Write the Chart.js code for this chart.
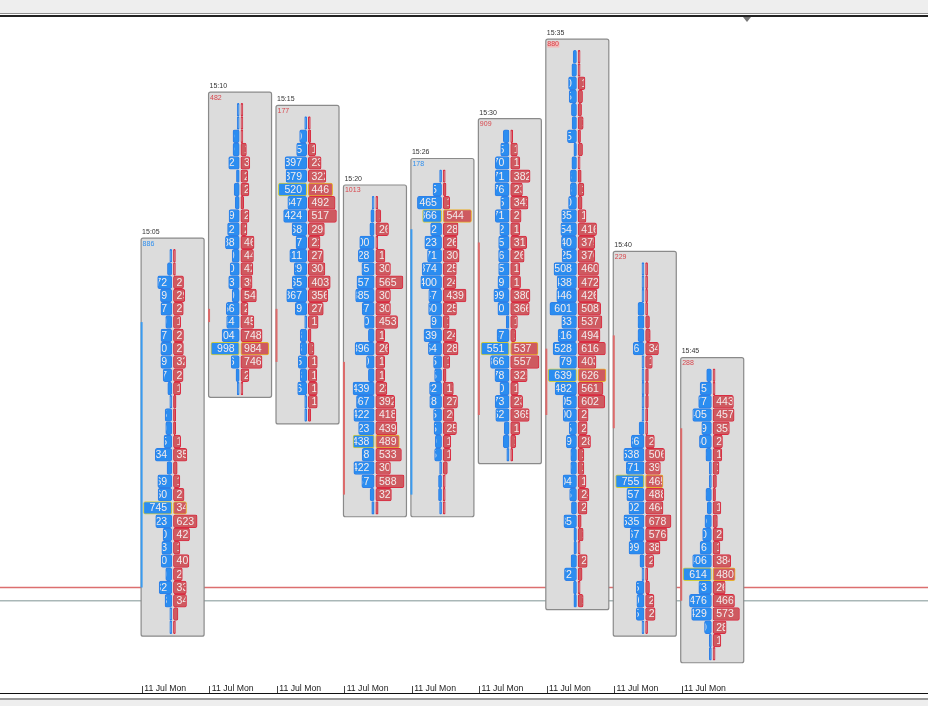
<!DOCTYPE html>
<html>
<head>
<meta charset="utf-8">
<title>Footprint</title>
<script src="https://cdn.jsdelivr.net/npm/chart.js@4"></script>
<style>
  html, body { margin: 0; background: #fff; overflow: hidden; }
  #wrap { position: relative; width: 928px; height: 706px; }
  canvas { position: absolute; left: 0; top: 0; filter: blur(0.4px); }
  .bar { position: absolute; left: 0; width: 928px; }
</style>
</head>
<body>
<div id="wrap">
  <canvas id="myChart" width="928" height="706"></canvas>
  <div class="bar" style="top:0;height:13px;background:#eeeeee"></div>
  <div class="bar" style="top:13px;height:1px;background:#8f8f8f"></div>
  <div class="bar" style="top:15px;height:2px;background:#222"></div>
  <div style="position:absolute;left:743px;top:17px;border-left:4.5px solid transparent;border-right:4.5px solid transparent;border-top:5px solid #777"></div>
  <div class="bar" style="top:693px;height:1px;background:#111"></div>
  <div class="bar" style="top:698px;height:2px;background:#999"></div>
  <div class="bar" style="top:700px;height:6px;background:#eeeeee"></div>
</div>
<script>
const times = ['15:05', '15:10', '15:15', '15:20', '15:26', '15:30', '15:35', '15:40', '15:45'];
const totals = [886, 482, 177, 1013, 178, 909, 880, 229, 288];
const totalColors = ['#2f8fee', '#d8464c', '#d8464c', '#d8464c', '#2f8fee', '#d8464c', '#d8464c', '#d8464c', '#d8464c'];
const dateLabel = '11 Jul Mon';

// first price level (counted from the top) of each candle, the busiest level, open/close levels
const firstLevels = [15, 4, 5, 11, 9, 6, 0, 16, 24];
const pocLevels = [34, 22, 10, 29, 12, 22, 24, 32, 39];
const bodyTops = [20, 19, 19, 23, 13, 14, 22, 21, 28];
const bodyBottoms = [40, 20, 23, 33, 33, 27, 27, 28, 41];
const redLineLevel = 40;
const greyLineLevel = 41;

const asks0 = [30, 115, 372, 299, 287, 160, 287, 290, 289, 227, 106, 50, 175, 160, 205, 434, 125, 369, 360, 745, 423, 230, 263, 280, 160, 332, 178, 30, 30];
const bids0 = [30, 30, 267, 299, 260, 190, 265, 263, 320, 255, 190, 70, 60, 60, 190, 355, 100, 170, 280, 345, 623, 425, 170, 409, 235, 339, 345, 120, 30];
const asks1 = [40, 40, 220, 220, 372, 100, 180, 140, 359, 412, 488, 250, 320, 373, 250, 456, 444, 604, 998, 286, 115, 40];
const bids1 = [40, 40, 40, 195, 315, 240, 285, 100, 285, 215, 465, 445, 420, 395, 548, 250, 459, 748, 984, 746, 285, 40];
const asks2 = [25, 130, 185, 397, 379, 520, 347, 424, 268, 197, 311, 229, 265, 367, 209, 35, 118, 118, 155, 118, 166, 35, 30];
const bids2 = [25, 45, 135, 235, 322, 446, 492, 517, 295, 215, 275, 305, 403, 356, 275, 180, 50, 105, 165, 155, 165, 165, 45];
const asks3 = [30, 70, 90, 300, 328, 255, 357, 385, 247, 200, 120, 396, 160, 120, 439, 367, 422, 323, 438, 248, 422, 257, 85, 50];
const bids3 = [30, 105, 265, 40, 190, 305, 565, 305, 305, 453, 185, 268, 185, 185, 230, 392, 418, 439, 489, 533, 305, 588, 325, 50];
const asks4 = [25, 165, 465, 366, 212, 323, 271, 374, 400, 247, 250, 209, 339, 254, 155, 135, 232, 228, 155, 145, 120, 135, 30, 60, 60, 30];
const bids4 = [25, 55, 125, 544, 285, 265, 305, 252, 245, 439, 255, 115, 245, 285, 125, 55, 195, 275, 205, 255, 145, 145, 80, 30, 30, 30];
const asks5 = [113, 165, 270, 271, 276, 165, 271, 182, 205, 206, 205, 219, 299, 220, 55, 237, 551, 366, 278, 180, 273, 262, 95, 113, 45];
const bids5 = [30, 133, 180, 382, 232, 341, 205, 180, 315, 265, 180, 195, 380, 366, 133, 100, 537, 557, 325, 150, 235, 365, 180, 100, 30];
const asks6 = [75, 105, 180, 165, 115, 100, 205, 60, 105, 138, 138, 180, 335, 354, 340, 325, 508, 438, 446, 601, 333, 416, 528, 379, 639, 482, 305, 300, 165, 229, 130, 130, 304, 155, 115, 285, 60, 60, 123, 272, 68, 60];
const bids6 = [40, 40, 155, 100, 78, 115, 55, 100, 40, 70, 130, 90, 178, 416, 375, 376, 460, 472, 426, 508, 537, 494, 616, 403, 626, 561, 602, 225, 205, 280, 130, 130, 178, 245, 200, 70, 115, 40, 205, 90, 40, 115];
const asks7 = [40, 40, 40, 160, 160, 160, 286, 55, 40, 40, 40, 40, 130, 336, 538, 471, 755, 457, 402, 535, 367, 399, 108, 40, 205, 190, 205, 40];
const bids7 = [40, 40, 40, 40, 105, 125, 345, 180, 75, 75, 75, 60, 50, 235, 506, 395, 465, 488, 464, 678, 576, 385, 215, 55, 105, 225, 255, 50];
const asks8 = [103, 245, 277, 405, 209, 260, 120, 45, 45, 120, 90, 140, 190, 246, 406, 614, 273, 476, 429, 150, 45, 45];
const bids8 = [45, 45, 443, 457, 355, 205, 190, 130, 75, 55, 170, 95, 215, 150, 384, 480, 265, 466, 573, 285, 170, 45];

const asks = [asks0, asks1, asks2, asks3, asks4, asks5, asks6, asks7, asks8];
const bids = [bids0, bids1, bids2, bids3, bids4, bids5, bids6, bids7, bids8];

// one x unit is one candle slot
const CENTER_GAP = 0.012;
const MAX_BAR = 0.42;
const MIN_BAR = 0.03;
const BOX_HALF = 0.467;

const barLength = (v, biggest) => Math.max(v / biggest * MAX_BAR, MIN_BAR);

const askBars = [];
const bidBars = [];
asks.forEach((rows, c) => {
  const biggest = Math.max(...rows, ...bids[c]);
  rows.forEach((v, r) => {
    const level = firstLevels[c] + r;
    const poc = level === pocLevels[c];
    askBars.push({ x: [c - CENTER_GAP - barLength(v, biggest), c - CENTER_GAP], y: level, v: v, poc: poc, c: c });
    const b = bids[c][r];
    bidBars.push({ x: [c + CENTER_GAP, c + CENTER_GAP + barLength(b, biggest)], y: level, v: b, poc: poc, c: c });
  });
});

const backdrop = {
  id: 'backdrop',
  beforeDatasetsDraw(chart) {
    const ctx = chart.ctx;
    const xs = chart.scales.x;
    const ys = chart.scales.y;
    ctx.save();

    [[redLineLevel, '#dc6f6f'], [greyLineLevel, '#a9b7b7']].forEach(([level, color]) => {
      ctx.strokeStyle = color;
      ctx.lineWidth = 1.4;
      ctx.beginPath();
      ctx.moveTo(0, ys.getPixelForValue(level));
      ctx.lineTo(chart.width, ys.getPixelForValue(level));
      ctx.stroke();
    });

    // small ticks above the bottom line, next to the date labels
    ctx.strokeStyle = '#444';
    ctx.lineWidth = 1;
    xs.ticks.forEach((tick, i) => {
      const tx = Math.round(xs.getPixelForTick(i)) + 0.5;
      ctx.beginPath();
      ctx.moveTo(tx, xs.top + 3);
      ctx.lineTo(tx, xs.top + 10);
      ctx.stroke();
    });

    times.forEach((t, c) => {
      const left = xs.getPixelForValue(c - BOX_HALF);
      const right = xs.getPixelForValue(c + BOX_HALF);
      const top = ys.getPixelForValue(firstLevels[c] - 1.33);
      const bottom = ys.getPixelForValue(firstLevels[c] + asks[c].length - 1 + 0.67);

      ctx.fillStyle = '#dcdcdc';
      ctx.strokeStyle = '#8a8a8a';
      ctx.lineWidth = 1.2;
      ctx.beginPath();
      ctx.roundRect(left, top, right - left, bottom - top, 2);
      ctx.fill();
      ctx.stroke();

      // open/close strip on the left edge
      ctx.fillStyle = totalColors[c] === '#2f8fee' ? '#3a9bf0' : '#dc6a6a';
      const bt = ys.getPixelForValue(bodyTops[c]);
      const bb = ys.getPixelForValue(bodyBottoms[c]);
      ctx.fillRect(left - 0.5, bt, 2, bb - bt);

      ctx.font = '7px "Liberation Sans"';
      ctx.textBaseline = 'middle';
      ctx.textAlign = 'left';
      ctx.fillStyle = '#333';
      ctx.fillText(t, left + 1, top - 6);
      if (c === 6) {
        ctx.fillStyle = '#f2b9b9';
        ctx.fillRect(left + 1.5, top + 2.5, 12, 6);
      }
      ctx.fillStyle = totalColors[c];
      ctx.fillText(String(totals[c]), left + 1.5, top + 5.5);
    });
    ctx.restore();
  }
};

const barText = {
  id: 'barText',
  afterDatasetsDraw(chart) {
    const ctx = chart.ctx;
    const xs = chart.scales.x;
    ctx.save();
    ctx.font = '10.5px "Liberation Sans"';
    ctx.textBaseline = 'middle';
    ctx.fillStyle = '#f3ecec';
    [0, 1].forEach(d => {
      const meta = chart.getDatasetMeta(d);
      meta.data.forEach((el, i) => {
        const row = chart.data.datasets[d].data[i];
        const p = el.getProps(['x', 'y', 'base', 'height'], true);
        const a = Math.min(p.x, p.base);
        const b = Math.max(p.x, p.base);
        if (b - a < 4) return;
        const mid = xs.getPixelForValue(row.c);
        ctx.save();
        ctx.beginPath();
        ctx.rect(a + 1, p.y - p.height / 2, b - a - 2, p.height);
        ctx.clip();
        ctx.textAlign = d === 0 ? 'right' : 'left';
        ctx.fillText(String(row.v), d === 0 ? mid - 5.5 : mid + 4, p.y + 0.5);
        ctx.restore();
      });
    });
    ctx.restore();
  }
};

new Chart(document.getElementById('myChart').getContext('2d'), {
  type: 'bar',
  data: {
    datasets: [
      {
        label: 'Ask',
        data: askBars,
        backgroundColor: '#2b8df0',
        borderColor: ctx => (ctx.raw && ctx.raw.poc ? '#cfcc3e' : '#2f7fe6')
      },
      {
        label: 'Bid',
        data: bidBars,
        backgroundColor: '#ce5a60',
        borderColor: ctx => (ctx.raw && ctx.raw.poc ? '#e8ae2c' : '#da2c42')
      }
    ]
  },
  options: {
    indexAxis: 'y',
    responsive: false,
    animation: false,
    events: [],
    layout: { padding: 0 },
    datasets: {
      bar: {
        grouped: false,
        barThickness: 12.8,
        borderWidth: 1,
        borderRadius: 2,
        borderSkipped: false
      }
    },
    plugins: { legend: { display: false }, tooltip: { enabled: false } },
    scales: {
      x: {
        type: 'linear',
        position: 'bottom',
        min: -2.559,
        max: 11.199,
        grid: { drawOnChartArea: false, drawTicks: false },
        border: { display: false },
        ticks: {
          align: 'start',
          padding: 0,
          maxRotation: 0,
          autoSkip: false,
          color: '#222',
          font: { family: 'Liberation Sans', size: 8.7 },
          callback: () => ' ' + dateLabel
        },
        afterBuildTicks(scale) {
          scale.ticks = times.map((t, c) => ({ value: c - 0.455 }));
        },
        afterFit(scale) {
          scale.height = 23;
        }
      },
      y: {
        type: 'linear',
        display: false,
        offset: false,
        reverse: true,
        min: -4.273,
        max: 47.197
      }
    }
  },
  plugins: [backdrop, barText]
});
</script>
</body>
</html>
